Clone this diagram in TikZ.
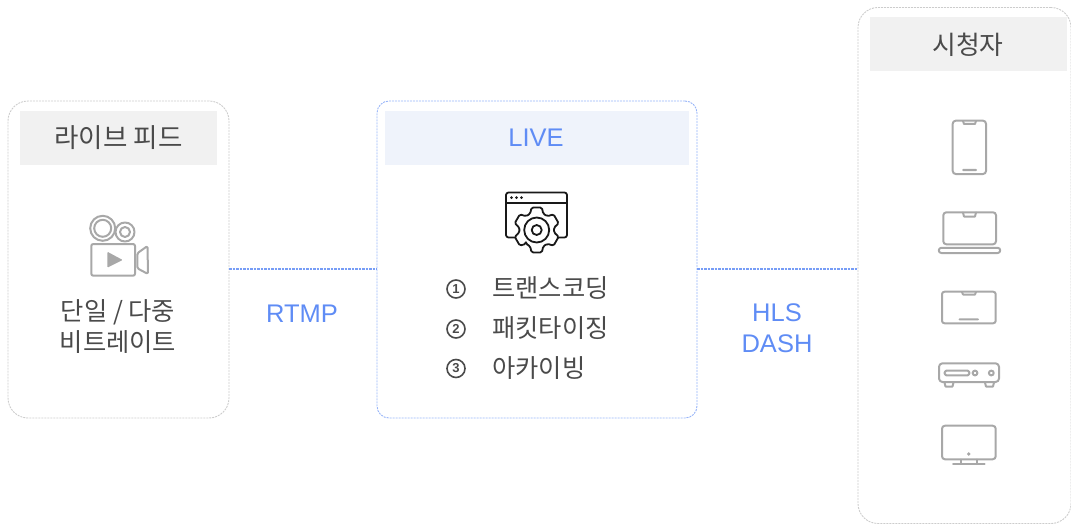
\documentclass[tikz,border=0pt]{standalone}
\usepackage{fontspec}
\setmainfont{Liberation Sans}
\newfontfamily\kr{Noto Sans CJK KR}
\usetikzlibrary{positioning,calc}
\definecolor{ink}{HTML}{4A4A4A}
\definecolor{accent}{HTML}{5F8CF5}
\definecolor{iconcol}{HTML}{A8A8A8}
\definecolor{headgray}{HTML}{F1F1F1}
\definecolor{headblue}{HTML}{EFF3FB}
\tikzset{
  panel/.style={draw=#1, line width=0.9pt, dash pattern=on 2pt off 1pt, inner sep=0pt, outer sep=0pt},
  header/.style={fill=#1, inner sep=0pt, outer sep=0pt},
  krtext/.style={font=\kr\fontsize{25.3}{31}\selectfont, text=ink, align=center, inner sep=0pt},
  bluetext/.style={font=\fontsize{25.5}{31}\selectfont, text=accent, align=center, inner sep=0pt},
  numtext/.style={circle, draw=ink, line width=1.6pt, minimum size=18pt, inner sep=0pt, font=\fontsize{13}{13}\selectfont\bfseries, text=ink},
  link/.style={draw=accent!85, line width=1.1pt, dash pattern=on 2.5pt off 1pt},
  icon/.style={draw=iconcol, line width=2pt, line join=round, line cap=round},
  blackicon/.style={draw=black!90, line width=1.8pt, line join=round, line cap=round}
}
\begin{document}
\begin{tikzpicture}[x=1pt, y=-1pt]
        \useasboundingbox (0,0) rectangle (1071,524);
        \node[panel=black!20, rounded corners=20pt, minimum width=221pt, minimum height=317pt] (feed) at (118.5,259.5) {};
        \node[panel=accent!65, rounded corners=12pt, minimum width=320pt, minimum height=317pt] (live) at (537,259.5) {};
        \node[panel=black!20, rounded corners=20pt, minimum width=213pt, minimum height=516pt] (viewer) at (964.5,265.5) {};

        \node[header=headgray, minimum width=197pt, minimum height=54pt] (feedhead) at (118.5,138) {};
        \node[header=headblue, minimum width=304pt, minimum height=54pt] (livehead) at (537,138) {};
        \node[header=headgray, minimum width=197pt, minimum height=54pt] (viewerhead) at (968.5,44) {};
        \node[krtext, font=\kr\fontsize{26.5}{31}\selectfont] (feedtitle) at (118.5,137.5) {라이브 피드};
        \node[bluetext] (livetitle) at (536,138) {LIVE};
        \node[krtext, font=\kr\fontsize{25.8}{31}\selectfont] (viewertitle) at (968,44.5) {시청자};

        \node[krtext] (feedtext) at (118,327) {단일 / 다중\\비트레이트};
        \node[bluetext] (rtmp) at (302,314) {RTMP};
        \node[bluetext] (hls) at (777,328) {HLS\\DASH};

        \node[krtext, anchor=west] (stepa) at (492,288.5) {트랜스코딩};
        \node[krtext, anchor=west] (stepb) at (492,328.5) {패킷타이징};
        \node[krtext, anchor=west] (stepc) at (492,368.5) {아카이빙};
        \node[numtext] (numa) at (456,289) {1};
        \node[numtext] (numb) at (456,329) {2};
        \node[numtext] (numc) at (456,368.5) {3};

        \draw[link] ($(feed.east)+(0,9.5)$) -- ($(live.west)+(0,9.5)$);
        \draw[link] ($(live.east)+(0,9.5)$) -- ($(viewer.west)+(0,3.5)$);

        % camera
        \draw[icon] (102.7,228.3) circle (12.5) (102.7,228.3) circle (8.5);
        \draw[icon] (125,232) circle (9.5) (125,232) circle (5);
        \draw[icon, rounded corners=2pt] (91.3,244) rectangle (135,275.7);
        \draw[icon, rounded corners=1.5pt] (137.3,253.3) -- (147.5,246) -- (148,274) -- (137.3,268.3) -- cycle;
        \fill[iconcol, rounded corners=1pt] (107.3,251.7) -- (122.7,260) -- (107.3,267.7) -- cycle;

        % window with gear
        \draw[blackicon, rounded corners=2.5pt] (506,192.5) rectangle (567,237.5);
        \draw[blackicon] (506,203) -- (567,203);
        \foreach \x in {511.5,516.5,521.5} \fill[black!90] (\x,197.7) circle (1.5);
        \begin{scope}[shift={(536.7,230)}]
          \draw[blackicon, fill=white, rounded corners=1.5pt] (128:17.5)
            \foreach \a in {90,30,-30,-90,-150,-210} { -- ({\a+22}:17.5) -- ({\a+13}:23) -- ({\a-13}:23) -- ({\a-22}:17.5) } -- cycle;
          \draw[blackicon] (0,0) circle (12.5) (0,0) circle (5);
        \end{scope}

        % phone
        \draw[icon, rounded corners=3pt] (952.7,120.7) rectangle (986,174);
        \draw[icon] (963,121) -- (964,124) -- (975,124) -- (976,121) (963,170) -- (976,170);
        % laptop
        \draw[icon, rounded corners=3pt] (943.3,212.3) rectangle (996,244.3);
        \draw[icon] (963,212.5) -- (964,216.5) -- (975,216.5) -- (976,212.5);
        \draw[icon, rounded corners=2.5pt] (938.8,247.8) rectangle (1000.2,253);
        % tablet
        \draw[icon, rounded corners=2.5pt] (942,291.7) rectangle (995.7,323.3);
        \draw[icon] (962,292) -- (963,294.5) -- (975,294.5) -- (976,292) (959.5,319.3) -- (978,319.3);
        % set-top box
        \draw[icon, rounded corners=3.5pt] (939,363.3) rectangle (999,382);
        \draw[icon, rounded corners=1.5pt] (944.7,370.7) rectangle (969.3,375.3);
        \draw[icon] (975,373) circle (2.4) (991.3,373) circle (2.4);
        \draw[icon] (944.5,382.5) -- (945.5,386.5) -- (952.5,386.5) -- (953.5,382.5);
        \draw[icon] (985,382.5) -- (986,386.5) -- (993,386.5) -- (994,382.5);
        % monitor
        \draw[icon, rounded corners=3pt] (942,425.7) rectangle (995.7,459.3);
        \fill[iconcol] (968.7,454) circle (1.8);
        \draw[icon] (961,459.5) -- (961,464) (976.7,459.5) -- (976.7,464) (953,464.3) -- (984.7,464.3);
\end{tikzpicture}
\end{document}
